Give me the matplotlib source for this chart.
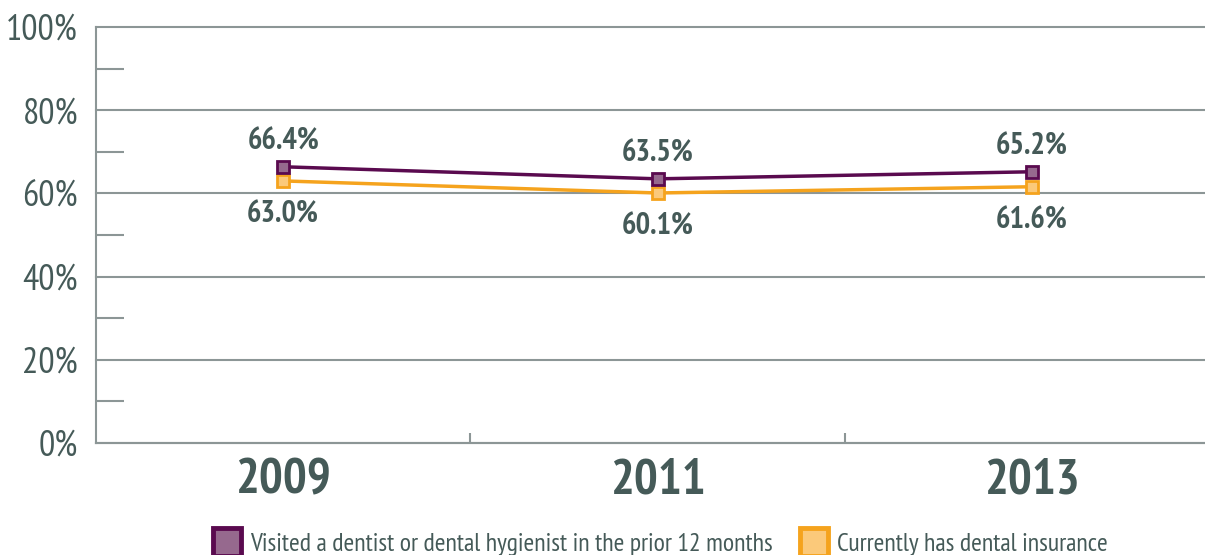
import matplotlib
matplotlib.use('Agg')
import matplotlib.pyplot as plt
from matplotlib.lines import Line2D

# chart data
years = ['2009', '2011', '2013']
visited = [66.4, 63.5, 65.2]
insured = [63.0, 60.1, 61.6]
series_names = ['Visited a dentist or dental hygienist in the prior 12 months',
                'Currently has dental insurance']
y_ticks = [0, 20, 40, 60, 80, 100]

plt.rcParams['font.family'] = ['PT Sans Narrow', 'DejaVu Sans']

text_col = '#455a58'
grid_col = '#8c9696'
purple, purple_fill = '#5a0a4f', '#96698e'
orange, orange_fill = '#f5a31d', '#fbc97a'

fig = plt.figure(figsize=(12.05, 5.55), dpi=100)
ax = fig.add_axes([96 / 1205, 112 / 555, 1123 / 1205, 416 / 555])

x = list(range(len(years)))
ax.plot(x, visited, color=purple, lw=2.5, marker='s', ms=8,
        mfc=purple_fill, mec=purple, mew=2, zorder=4)
ax.plot(x, insured, color=orange, lw=2.5, marker='s', ms=8,
        mfc=orange_fill, mec=orange, mew=2, zorder=3)

for xi, v in zip(x, visited):
    ax.annotate(f'{v:.1f}%', (xi, v), xytext=(0, 18), textcoords='offset points',
                ha='center', va='center', fontsize=22, fontweight='bold', color=text_col)
for xi, v in zip(x, insured):
    ax.annotate(f'{v:.1f}%', (xi, v), xytext=(0, -24), textcoords='offset points',
                ha='center', va='center', fontsize=22, fontweight='bold', color=text_col)

ax.set_xlim(-0.5, 2.5)
ax.set_ylim(0, 100)

# horizontal gridlines
for t in y_ticks:
    ax.axhline(t, color=grid_col, lw=1.5, zorder=1, clip_on=False)

ax.set_yticks(y_ticks)
ax.set_yticklabels([f'{t}%' for t in y_ticks])
ax.set_yticks([10, 30, 50, 70, 90], minor=True)
ax.tick_params(axis='y', which='major', length=0, pad=13, labelsize=26, labelcolor=text_col)
ax.tick_params(axis='y', which='minor', direction='in', length=20, width=1.5, color=grid_col)

ax.set_xticks(x)
ax.set_xticklabels(years)
ax.set_xticks([0.5, 1.5], minor=True)
ax.tick_params(axis='x', which='major', length=0, pad=11, labelsize=36, labelcolor=text_col)
ax.tick_params(axis='x', which='minor', direction='in', length=7, width=1.5, color=grid_col)
for lab in ax.get_xticklabels():
    lab.set_fontweight('bold')

for s in ['top', 'right']:
    ax.spines[s].set_visible(False)
for s in ['left', 'bottom']:
    ax.spines[s].set_color(grid_col)
    ax.spines[s].set_linewidth(1.5)

handles = [
    Line2D([], [], ls='none', marker='s', ms=20, mfc=purple_fill, mec=purple, mew=3.5),
    Line2D([], [], ls='none', marker='s', ms=20, mfc=orange_fill, mec=orange, mew=3.5),
]
fig.legend(handles, series_names, loc='center', bbox_to_anchor=(660 / 1205, 1 - 544 / 555),
           ncol=2, frameon=False, fontsize=18.5, labelcolor=text_col,
           handletextpad=0.3, columnspacing=1.0, handlelength=1.2)

fig.savefig('out.png', dpi=100)
